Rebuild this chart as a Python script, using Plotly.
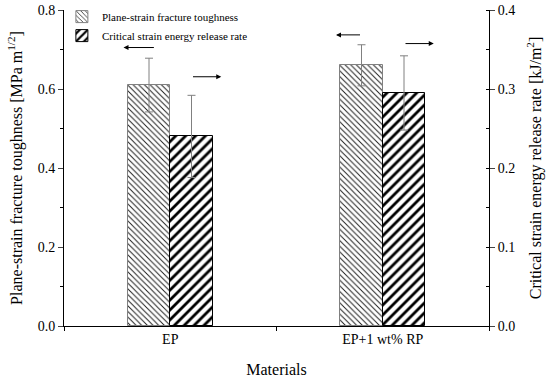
import plotly.graph_objects as go

materials = ["EP", "EP+1 wt% RP"]
toughness = [0.61, 0.66]          # MPa m^1/2 (left axis)
toughness_err = [0.068, 0.052]
energy = [0.24, 0.295]            # kJ/m^2 (right axis)
energy_err = [0.052, 0.047]
xpos = [0, 1]

fig = go.Figure()
fig.add_trace(go.Bar(
    x=xpos, y=toughness, width=0.2, offset=-0.2,
    name="Plane-strain fracture toughness",
    marker=dict(color="white", line=dict(color="#808080", width=1),
                pattern=dict(shape="\\", fgcolor="#202020", fgopacity=1, size=4, solidity=0.25)),
    error_y=dict(type="data", array=toughness_err, color="#808080", thickness=1, width=4),
    yaxis="y",
))
fig.add_trace(go.Bar(
    x=xpos, y=energy, width=0.2, offset=0.0,
    name="Critical strain energy release rate",
    marker=dict(color="white", line=dict(color="black", width=1),
                pattern=dict(shape="/", fgcolor="black", fgopacity=1, size=7, solidity=0.4)),
    error_y=dict(type="data", array=energy_err, color="#808080", thickness=1, width=4),
    yaxis="y2",
))

font = "Liberation Serif"
arrows = [(-0.07, -0.22, 0.705), (0.10, 0.24, 0.631), (0.90, 0.78, 0.737), (1.10, 1.24, 0.715)]
ann = []
for x0, x1, yy in arrows:
    ann.append(dict(x=x1, y=yy, ax=x0, ay=yy, xref="x", yref="y", axref="x", ayref="y",
                    showarrow=True, arrowhead=2, arrowsize=1, arrowwidth=1,
                    arrowcolor="black", text=""))

tickfont = dict(family=font, size=14, color="black")
titlefont = dict(family=font, size=16, color="black")

fig.update_layout(
    width=550, height=381,
    margin=dict(l=64, r=61, t=10, b=55, autoexpand=False),
    plot_bgcolor="white", paper_bgcolor="white",
    barmode="overlay", bargap=0,
    font=dict(family=font, size=14, color="black"),
    showlegend=True,
    legend=dict(x=-0.005, y=1.025, xanchor="left", yanchor="top", bgcolor="rgba(0,0,0,0)",
                font=dict(size=11, family=font), itemwidth=30, tracegroupgap=0),
    xaxis=dict(range=[-0.5, 1.5], tickvals=xpos, ticktext=materials, tickfont=tickfont,
               ticks="", showline=True, linecolor="black", linewidth=1, automargin=False,
               minor=dict(tickvals=[-0.5, 0.5, 1.5], ticks="outside", ticklen=4, tickcolor="black"),
               title=dict(text="Materials", font=titlefont, standoff=18),
               showgrid=False, zeroline=False, mirror=False),
    yaxis=dict(range=[0, 0.8], dtick=0.2, tickformat=".1f", ticks="outside", ticklen=5,
               tickfont=tickfont, automargin=False, ticklabeloverflow="allow",
               showline=True, linecolor="black", linewidth=1, showgrid=False, zeroline=False,
               minor=dict(dtick=0.1, ticks="outside", ticklen=3, tickcolor="black"),
               title=dict(text="Plane-strain fracture toughness [MPa m<sup>1/2</sup>]",
                          font=titlefont, standoff=11)),
    yaxis2=dict(range=[0, 0.4], dtick=0.1, tickformat=".1f", ticks="outside", ticklen=5,
                tickfont=tickfont, automargin=False, ticklabeloverflow="allow",
                overlaying="y", side="right", showline=True, linecolor="black", linewidth=1,
                showgrid=False, zeroline=False,
                minor=dict(dtick=0.05, ticks="inside", ticklen=3, tickcolor="black"),
                title=dict(text="Critical strain energy release rate [kJ/m<sup>2</sup>]",
                           font=titlefont, standoff=15)),
    annotations=ann,
)

# remove the default 8px page margin so the figure fills the window exactly
fig.write_html("out.html", config={"displayModeBar": False},
               post_script="document.body.style.margin='0';")
